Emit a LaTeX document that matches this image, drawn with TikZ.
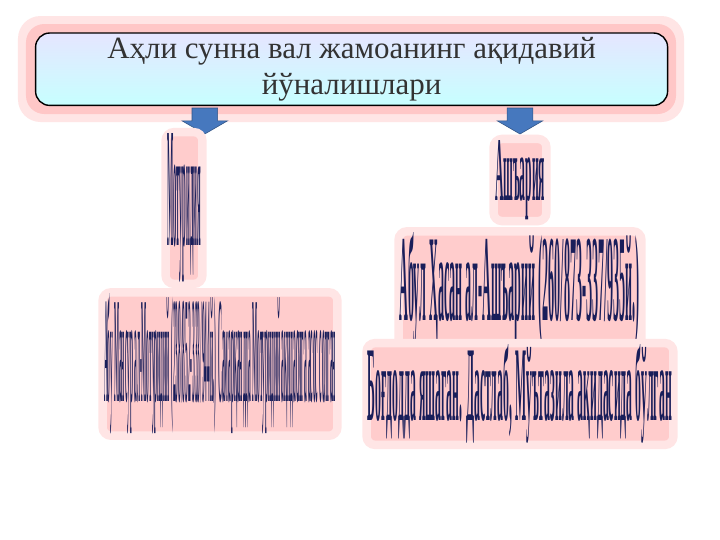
\documentclass[tikz,border=0pt]{standalone}
\usepackage{fontspec}
\setmainfont{Liberation Serif}
\usetikzlibrary{positioning}

\definecolor{inkblue}{RGB}{25,30,90}
\definecolor{arrowblue}{RGB}{70,120,190}
\tikzset{
  glowbox/.style={fill=red!20,draw=red!10,line width=6pt,rounded corners=6pt,inner sep=1pt,text=inkblue,font=\bfseries},
  downarrow/.style={fill=arrowblue,draw=arrowblue!70!black,thin}
}
\newcommand{\downarr}[1]{%
  \path[downarrow] ($(#1)+(-0.32,0)$) -- ++(0.64,0) -- ++(0,-0.32) -- ++(0.25,0)
    -- ($(#1)+(0,-0.65)$) -- ($(#1)+(-0.57,-0.32)$) -- ++(0.25,0) -- cycle;}
\usetikzlibrary{calc}

\begin{document}
\begin{tikzpicture}
\useasboundingbox (0,0) rectangle (18,-13.5);
\fill[white] (0,0) rectangle (18,-13.5);
% title box with glow
\fill[red!10,rounded corners=16pt] (0.45,-0.4) rectangle (17.1,-3.05);
\fill[red!22,rounded corners=13pt] (0.65,-0.6) rectangle (16.9,-2.85);
\node[draw=black,line width=1pt,rounded corners=10pt,top color=blue!10,bottom color=cyan!22,
  minimum width=15.8cm,minimum height=1.8cm,align=center,font=\fontsize{22}{25}\selectfont,text=black!80]
  (title) at (8.79,-1.73) {Аҳли сунна вал жамоанинг ақидавий\\йўналишлари};
% arrows
\coordinate (arrL) at (5.12,-2.7);
\coordinate (arrR) at (13.0,-2.7);
\downarr{arrL}
\downarr{arrR}
% left column
\node[glowbox] (motur) at (4.6,-5.2) {\resizebox{0.85cm}{2.8cm}{Мотуридия}};
\node[glowbox] (abumansur) at (5.5,-9.1) {\resizebox{5.8cm}{2.7cm}{Абу Мансур ал-Мотуридий (238/852-333/944й.) Самарқандда Мотуридий ақидасига асос солган}};
% right column
\node[glowbox] (ashari) at (13.0,-4.5) {\resizebox{1.25cm}{1.5cm}{Ашъария}};
\node[glowbox] (abulhasan) at (13.0,-7.25) {\resizebox{6.0cm}{2.2cm}{Абул Ҳасан ал-Ашъарий (260/873-337/935й.)}};
\node[glowbox] (bagdod) at (13.0,-9.85) {\resizebox{7.6cm}{1.9cm}{Боғдодда яшаган. Дастлаб, Мўътазила ақидасида бўлган}};
\end{tikzpicture}
\end{document}
